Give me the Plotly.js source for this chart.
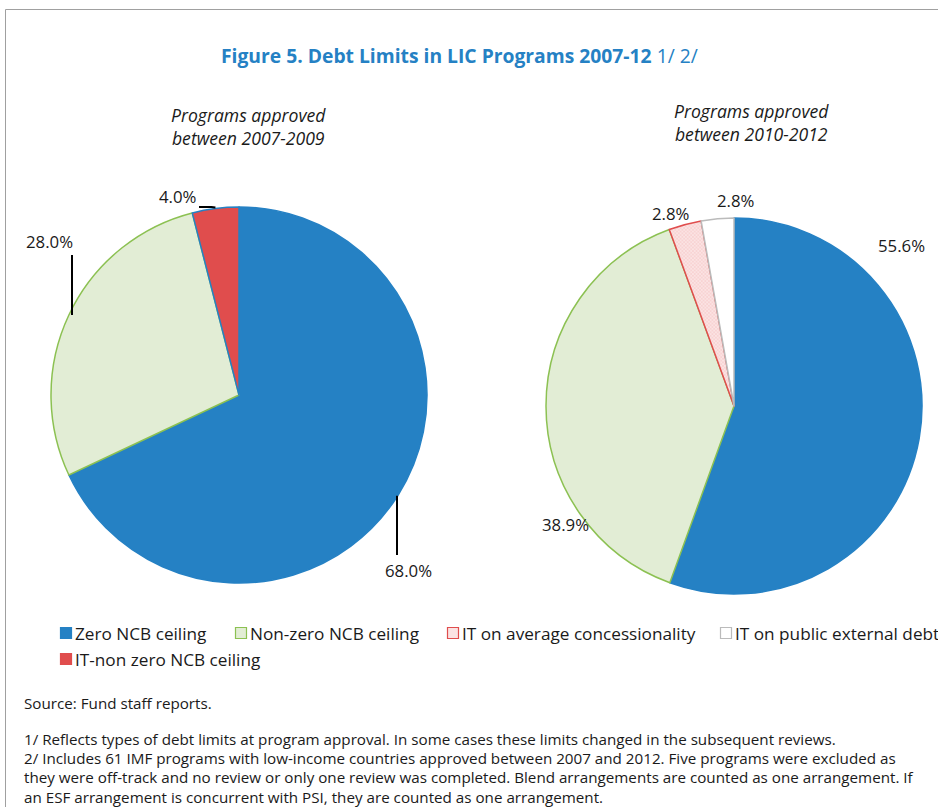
<!DOCTYPE html>
<html>
<head>
<meta charset="utf-8">
<script src="https://cdn.plot.ly/plotly-3.0.1.min.js"></script>
<style>html,body{margin:0;padding:0;background:#fff;}#chart{width:938px;height:807px;}</style>
</head>
<body>
<div id="chart"></div>
<script>
// ---- data ----
const titleMain = "Figure 5. Debt Limits in LIC Programs 2007-12";
const titleNotes = "1/ 2/";
const subtitle1 = ["Programs approved", "between 2007-2009"];
const subtitle2 = ["Programs approved", "between 2010-2012"];

const labels1 = ["Zero NCB ceiling", "Non-zero NCB ceiling", "IT-non zero NCB ceiling"];
const values1 = [68.0, 28.0, 4.0];

const labels2 = ["Zero NCB ceiling", "Non-zero NCB ceiling", "IT on average concessionality", "IT on public external debt"];
const values2 = [55.6, 38.9, 2.8, 2.8];

const legendLabels = ["Zero NCB ceiling", "Non-zero NCB ceiling", "IT on average concessionality", "IT on public external debt", "IT-non zero NCB ceiling"];

const footnotes = [
  "Source: Fund staff reports.",
  "1/ Reflects types of debt limits at program approval. In some cases these limits changed in the subsequent reviews.",
  "2/ Includes 61 IMF programs with low-income countries approved between 2007 and 2012. Five programs were excluded as",
  "they were off-track and no review or only one review was completed. Blend arrangements are counted as one arrangement. If",
  "an ESF arrangement is concurrent with PSI, they are counted as one arrangement."
];

// ---- styles ----
const W = 938, H = 807;
const px = x => x / W;
const py = y => 1 - y / H;
const C = {
  "Zero NCB ceiling": {fill: "#2581C4", line: "#2581C4"},
  "Non-zero NCB ceiling": {fill: "#E2EDD5", line: "#8CC152"},
  "IT on average concessionality": {fill: "#FBE3E3", line: "#E04D4D"},
  "IT on public external debt": {fill: "#FFFFFF", line: "#BBBBBB"},
  "IT-non zero NCB ceiling": {fill: "#E04D4D", line: "#2581C4"}
};
const FONT = "Open Sans, Noto Sans, sans-serif";
const txt = "#1a1a1a";

function pieTrace(labels, values, cx, cy, r) {
  return {
    type: "pie", labels: labels, values: values, sort: false, direction: "clockwise", rotation: 0,
    textinfo: "none", hoverinfo: "label+percent", showlegend: false,
    domain: {x: [px(cx - r), px(cx + r)], y: [py(cy + r), py(cy - r)]},
    marker: {
      colors: labels.map(l => C[l].fill),
      line: {color: labels.map(l => C[l].line), width: 1.5},
      pattern: {
        shape: labels.map(l => l === "IT on average concessionality" ? "x" : ""),
        fgcolor: "#F4C0C0", bgcolor: labels.map(l => C[l].fill), size: 2.5, solidity: 0.3
      }
    }
  };
}

const P1 = {cx: 239, cy: 395, r: 188};
const P2 = {cx: 734, cy: 406, r: 188};

const data = [
  pieTrace(labels1, values1, P1.cx, P1.cy, P1.r),
  pieTrace(labels2, values2, P2.cx, P2.cy, P2.r)
];

// slice mid-point on circumference (pixels) from data
function midPoint(values, i, P) {
  const tot = values.reduce((a, b) => a + b, 0);
  let cum = 0;
  for (let k = 0; k < i; k++) cum += values[k];
  const a = (cum + values[i] / 2) / tot * 2 * Math.PI;
  return [P.cx + P.r * Math.sin(a), P.cy - P.r * Math.cos(a)];
}
const pct = v => v.toFixed(1) + "%";

const annotations = [];
const shapes = [];

// frame
shapes.push({type: "rect", xref: "paper", yref: "paper", x0: px(5.5), x1: px(960), y0: py(830), y1: py(9.5),
  line: {color: "#A0A0A0", width: 1}, fillcolor: "rgba(0,0,0,0)"});

// title
annotations.push({xref: "paper", yref: "paper", x: px(459), y: py(56), xanchor: "center", yanchor: "middle", showarrow: false,
  text: "<b>" + titleMain + "</b> " + titleNotes, font: {family: FONT, size: 19.3, color: "#2581C4"}});

// subtitles
annotations.push({xref: "paper", yref: "paper", x: px(249), y: py(126), xanchor: "center", yanchor: "middle", showarrow: false,
  text: "<i>" + subtitle1.join("<br>") + "</i>", font: {family: FONT, size: 17.6, color: txt}});
annotations.push({xref: "paper", yref: "paper", x: px(751), y: py(123), xanchor: "center", yanchor: "middle", showarrow: false,
  text: "<i>" + subtitle2.join("<br>") + "</i>", font: {family: FONT, size: 17.6, color: txt}});

// pie 1 labels with leader lines
const lab1Pos = [[408, 570], [49, 242], [178, 196]];
const lead1End = [[397, 555], [72, 255], [199, 207]];
values1.forEach((v, i) => {
  const m = midPoint(values1, i, P1);
  annotations.push({xref: "paper", yref: "paper", x: px(lab1Pos[i][0]), y: py(lab1Pos[i][1]), showarrow: false,
    xanchor: "center", yanchor: "middle", text: pct(v), font: {family: FONT, size: 16.8, color: txt}});
  const e = lead1End[i];
  if (i === 2) {
    shapes.push({type: "path", xref: "paper", yref: "paper",
      path: "M" + px(m[0]) + "," + py(m[1] - 1) + " L" + px(m[0] - 4) + "," + py(e[1]) + " L" + px(e[0]) + "," + py(e[1]),
      line: {color: "#000", width: 2}});
  } else {
    shapes.push({type: "line", xref: "paper", yref: "paper", x0: px(e[0]), x1: px(e[0]), y0: py(m[1]), y1: py(e[1]),
      line: {color: "#000", width: 2}});
  }
});

// pie 2 labels
const lab2Pos = [[901, 245], [565, 524], [671, 213], [736, 200]];
values2.forEach((v, i) => {
  annotations.push({xref: "paper", yref: "paper", x: px(lab2Pos[i][0]), y: py(lab2Pos[i][1]), showarrow: false,
    xanchor: "center", yanchor: "middle", text: pct(v), font: {family: FONT, size: 16.8, color: txt}});
});

// legend
const legPos = [[60, 633], [235, 633], [447, 633], [720, 633], [60, 659]];
legendLabels.forEach((l, i) => {
  const [x, y] = legPos[i];
  shapes.push({type: "rect", xref: "paper", yref: "paper", x0: px(x + 0.5), x1: px(x + 11.5), y0: py(y + 5.5), y1: py(y - 5.5),
    fillcolor: C[l].fill, line: {color: (i === 0 || i === 4) ? C[l].fill : C[l].line, width: 1.2}});
  annotations.push({xref: "paper", yref: "paper", x: px(x + 13), y: py(y), xanchor: "left", yanchor: "middle", showarrow: false,
    text: l, font: {family: FONT, size: 17.2, color: txt}});
});

// footnotes
const footY = [703, 739, 758, 777, 797];
footnotes.forEach((t, i) => {
  annotations.push({xref: "paper", yref: "paper", x: px(22), y: py(footY[i]), xanchor: "left", yanchor: "middle", showarrow: false,
    text: t, font: {family: FONT, size: 15.2, color: txt}});
});

const layout = {
  width: W, height: H, autosize: false,
  margin: {l: 0, r: 0, t: 0, b: 0, pad: 0},
  paper_bgcolor: "#fff", plot_bgcolor: "#fff",
  showlegend: false,
  shapes: shapes, annotations: annotations
};

Plotly.newPlot("chart", data, layout, {displayModeBar: false, staticPlot: true});
</script>
</body>
</html>
